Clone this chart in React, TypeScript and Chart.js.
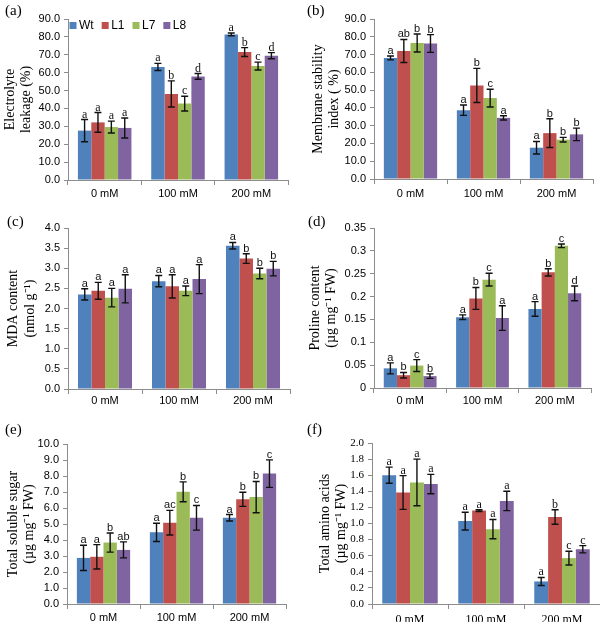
import React, { useEffect, useRef } from 'react';
import { Chart, registerables } from 'chart.js';

Chart.register(...registerables);

const SANS = '"Liberation Sans", Arial, sans-serif';
const SERIF = '"Liberation Serif", "Times New Roman", serif';
const AXIS = '#8c8c8c';

const categories = ['0 mM', '100 mM', '200 mM'];
const seriesNames = ['Wt', 'L1', 'L7', 'L8'];
const seriesColors = ['#4F81BD', '#C0504D', '#9BBB59', '#8064A2'];

// (a) Electrolyte leakage (%)  [Wt, L1, L7, L8] x [0, 100, 200 mM]
const leakValues = [
  [27.6, 63.2, 81.4],
  [32.2, 48.1, 71.5],
  [29.6, 42.7, 63.7],
  [29.1, 57.9, 69.5],
];
const leakErrors = [
  [6.2, 2.0, 0.8],
  [5.5, 7.3, 2.5],
  [3.3, 4.1, 2.2],
  [5.6, 1.6, 1.7],
];
const leakLetters = [
  ['a', 'a', 'a'],
  ['a', 'b', 'b'],
  ['a', 'c', 'c'],
  ['a', 'd', 'd'],
];

// (b) Membrane stability index (%)
const msiValues = [
  [68.1, 38.7, 17.6],
  [72.0, 52.6, 25.8],
  [76.5, 45.5, 22.1],
  [76.2, 34.4, 25.1],
];
const msiErrors = [
  [1.1, 2.9, 3.5],
  [6.5, 9.6, 8.1],
  [5.1, 5.0, 1.3],
  [5.0, 1.2, 3.5],
];
const msiLetters = [
  ['a', 'a', 'a'],
  ['ab', 'b', 'b'],
  ['b', 'c', 'b'],
  ['b', 'a', 'b'],
];

// (c) MDA content
const mdaValues = [
  [2.35, 2.68, 3.56],
  [2.44, 2.55, 3.24],
  [2.27, 2.44, 2.87],
  [2.49, 2.73, 2.99],
];
const mdaErrors = [
  [0.14, 0.14, 0.08],
  [0.21, 0.29, 0.12],
  [0.23, 0.12, 0.13],
  [0.35, 0.36, 0.18],
];
const mdaLetters = [
  ['a', 'a', 'a'],
  ['a', 'a', 'b'],
  ['a', 'a', 'b'],
  ['a', 'a', 'b'],
];

// (d) Proline content
const proValues = [
  [0.043, 0.155, 0.173],
  [0.028, 0.196, 0.253],
  [0.049, 0.237, 0.311],
  [0.026, 0.153, 0.207],
];
const proErrors = [
  [0.012, 0.005, 0.016],
  [0.006, 0.024, 0.008],
  [0.013, 0.014, 0.004],
  [0.005, 0.027, 0.016],
];
const proLetters = [
  ['a', 'a', 'a'],
  ['b', 'b', 'b'],
  ['c', 'c', 'c'],
  ['b', 'a', 'd'],
];

// (e) Total soluble sugar
const sugValues = [
  [2.88, 4.48, 5.39],
  [2.95, 5.08, 6.54],
  [3.84, 7.01, 6.68],
  [3.38, 5.39, 8.15],
];
const sugErrors = [
  [0.79, 0.57, 0.2],
  [0.76, 0.77, 0.44],
  [0.6, 0.62, 0.98],
  [0.5, 0.77, 0.86],
];
const sugLetters = [
  ['a', 'a', 'a'],
  ['a', 'ac', 'b'],
  ['b', 'b', 'b'],
  ['ab', 'c', 'c'],
];

// (f) Total amino acids
const aaValues = [
  [1.6, 1.03, 0.28],
  [1.385, 1.16, 1.08],
  [1.51, 0.93, 0.57],
  [1.49, 1.28, 0.68],
];
const aaErrors = [
  [0.1, 0.11, 0.05],
  [0.21, 0.01, 0.09],
  [0.29, 0.12, 0.085],
  [0.12, 0.12, 0.045],
];
const aaLetters = [
  ['a', 'a', 'a'],
  ['a', 'a', 'b'],
  ['a', 'a', 'c'],
  ['a', 'a', 'c'],
];

const fmt1 = (v: number) => Number(v).toFixed(1);
const fmtTrim = (v: number) => String(Number(Number(v).toFixed(2)));

type Spec = {
  tag: string;
  cx: number; cy: number; cw: number; ch: number;
  L: number; R: number; T: number; B: number;
  max: number; step: number; fmt: (v: number) => string;
  values: number[][]; errors: number[][]; letters: string[][];
  title: string[]; titlePad: number; xPad: number;
  tickFamily: string; catFamily: string; catSize: number; letterFont: string;
  legend: boolean;
  labelX: number; labelY: number;
};

const panels: Spec[] = [
  {
    tag: '(a)', cx: 0, cy: 0, cw: 300, ch: 205, L: 68, R: 288, T: 19, B: 180,
    max: 90, step: 10, fmt: fmt1, values: leakValues, errors: leakErrors, letters: leakLetters,
    title: ['Electrolyte', 'leakage (%)'], titlePad: 1.5, xPad: 2.5,
    tickFamily: SANS, catFamily: SANS, catSize: 11, letterFont: `12px ${SERIF}`, legend: true,
    labelX: 5, labelY: 2,
  },
  {
    tag: '(b)', cx: 300, cy: 0, cw: 300, ch: 205, L: 374, R: 593, T: 19, B: 179,
    max: 90, step: 10, fmt: fmt1, values: msiValues, errors: msiErrors, letters: msiLetters,
    title: ['Membrane stability', 'index ( %)'], titlePad: 9.5, xPad: 3,
    tickFamily: SANS, catFamily: SANS, catSize: 11, letterFont: `11px ${SANS}`, legend: false,
    labelX: 307, labelY: 2,
  },
  {
    tag: '(c)', cx: 0, cy: 205, cw: 300, ch: 205, L: 68, R: 290, T: 228, B: 389,
    max: 4, step: 0.5, fmt: fmt1, values: mdaValues, errors: mdaErrors, letters: mdaLetters,
    title: ['MDA content', '(nmol g\u207B\u00B9)'], titlePad: 5, xPad: 0.5,
    tickFamily: SANS, catFamily: SANS, catSize: 11, letterFont: `11px ${SANS}`, legend: false,
    labelX: 7, labelY: 213,
  },
  {
    tag: '(d)', cx: 300, cy: 205, cw: 300, ch: 205, L: 374, R: 591, T: 228, B: 388,
    max: 0.35, step: 0.05, fmt: fmtTrim, values: proValues, errors: proErrors, letters: proLetters,
    title: ['Proline content', '(\u00B5g mg\u207B\u00B9 FW)'], titlePad: 6.5, xPad: 1.5,
    tickFamily: SANS, catFamily: SANS, catSize: 11, letterFont: `11px ${SANS}`, legend: false,
    labelX: 308, labelY: 213,
  },
  {
    tag: '(e)', cx: 0, cy: 410, cw: 300, ch: 214, L: 67, R: 286, T: 444, B: 604,
    max: 10, step: 1, fmt: fmt1, values: sugValues, errors: sugErrors, letters: sugLetters,
    title: ['Total soluble sugar', '(\u00B5g mg\u207B\u00B9 FW)'], titlePad: 4.5, xPad: 2.5,
    tickFamily: SANS, catFamily: SANS, catSize: 11, letterFont: `11px ${SANS}`, legend: false,
    labelX: 5, labelY: 421,
  },
  {
    tag: '(f)', cx: 300, cy: 410, cw: 300, ch: 214, L: 372, R: 600, T: 443, B: 604,
    max: 2, step: 0.2, fmt: fmt1, values: aaValues, errors: aaErrors, letters: aaLetters,
    title: ['Total amino acids', '(\u00B5g mg\u207B\u00B9 FW)'], titlePad: 16.5, xPad: 4,
    tickFamily: SERIF, catFamily: SERIF, catSize: 12, letterFont: `12px ${SERIF}`, legend: false,
    labelX: 307, labelY: 421,
  },
];

function makeAnnotPlugin(letterFont: string) {
  return {
    id: 'annot',
    afterDatasetsDraw(chart: any) {
      const { ctx } = chart;
      const yScale = chart.scales.y;
      chart.data.datasets.forEach((ds: any, di: number) => {
        const meta = chart.getDatasetMeta(di);
        meta.data.forEach((bar: any, i: number) => {
          const v = ds.data[i];
          const e = ds.errors[i];
          const x = bar.x;
          const yTop = yScale.getPixelForValue(v + e);
          const yBot = yScale.getPixelForValue(v - e);
          const cap = 3.5;
          ctx.save();
          ctx.strokeStyle = '#111';
          ctx.lineWidth = 1.4;
          ctx.beginPath();
          ctx.moveTo(x, yTop);
          ctx.lineTo(x, yBot);
          ctx.moveTo(x - cap, yTop);
          ctx.lineTo(x + cap, yTop);
          ctx.moveTo(x - cap, yBot);
          ctx.lineTo(x + cap, yBot);
          ctx.stroke();
          ctx.fillStyle = '#111';
          ctx.font = letterFont;
          ctx.textAlign = 'center';
          ctx.textBaseline = 'alphabetic';
          ctx.fillText(ds.letters[i], x, yTop - 2);
          ctx.restore();
        });
      });
    },
  };
}

function makeLegendPlugin(show: boolean) {
  return {
    id: 'boxLegend',
    afterDatasetsDraw(chart: any) {
      if (!show) return;
      const { ctx, chartArea } = chart;
      let x = chartArea.left + 1.5;
      const yc = chartArea.top + 6.5;
      ctx.save();
      ctx.font = `12px ${SANS}`;
      ctx.textBaseline = 'middle';
      ctx.textAlign = 'left';
      chart.data.datasets.forEach((ds: any) => {
        ctx.fillStyle = ds.backgroundColor;
        ctx.fillRect(x, yc - 3.5, 7, 7);
        x += 9.5;
        ctx.fillStyle = '#000';
        ctx.fillText(ds.label, x, yc + 0.5);
        x += ctx.measureText(ds.label).width + 8;
      });
      ctx.restore();
    },
  };
}

function makeChart(canvas: HTMLCanvasElement, p: Spec) {
  const yWidth = p.L - p.cx;
  const xHeight = 18;
  return new Chart(canvas, {
    type: 'bar',
    data: {
      labels: categories,
      datasets: seriesNames.map((name, i) => ({
        label: name,
        data: p.values[i],
        errors: p.errors[i],
        letters: p.letters[i],
        backgroundColor: seriesColors[i],
        borderWidth: 0,
        categoryPercentage: 0.73,
        barPercentage: 1.0,
      })) as any,
    },
    options: {
      responsive: false,
      maintainAspectRatio: false,
      animation: false,
      layout: {
        padding: {
          left: 0,
          right: p.cx + p.cw - p.R,
          top: p.T - p.cy,
          bottom: p.cy + p.ch - p.B - xHeight,
        },
      },
      plugins: {
        legend: { display: false },
        tooltip: { enabled: false },
        title: { display: false },
      },
      scales: {
        x: {
          grid: {
            display: true,
            drawOnChartArea: false,
            drawTicks: true,
            tickLength: 5,
            color: AXIS,
            offset: true,
          },
          border: { display: true, color: AXIS, width: 1 },
          ticks: {
            font: { family: p.catFamily, size: p.catSize },
            color: '#000',
            padding: p.xPad,
            maxRotation: 0,
            autoSkip: false,
          },
          afterFit: (s: any) => {
            s.height = xHeight;
          },
        },
        y: {
          min: 0,
          max: p.max,
          ticks: {
            stepSize: p.step,
            autoSkip: false,
            callback: (v: any) => p.fmt(Number(v)),
            font: { family: p.tickFamily, size: 11 },
            color: '#000',
            padding: 4,
          },
          grid: {
            display: true,
            drawOnChartArea: false,
            drawTicks: true,
            tickLength: 4,
            color: AXIS,
          },
          border: { display: true, color: AXIS, width: 1 },
          title: {
            display: true,
            text: p.title,
            font: { family: SERIF, size: 14, lineHeight: 1.2 },
            color: '#000',
            padding: { top: p.titlePad, bottom: 0 },
          },
          afterFit: (s: any) => {
            s.width = yWidth;
          },
        },
      },
    } as any,
    plugins: [makeAnnotPlugin(p.letterFont), makeLegendPlugin(p.legend)],
  });
}

function Panel({ spec }: { spec: Spec }) {
  const ref = useRef<HTMLCanvasElement>(null);
  useEffect(() => {
    if (!ref.current) return;
    const chart = makeChart(ref.current, spec);
    return () => chart.destroy();
  }, [spec]);
  return (
    <canvas
      ref={ref}
      width={spec.cw}
      height={spec.ch}
      style={{
        position: 'absolute',
        left: spec.cx,
        top: spec.cy,
        width: spec.cw,
        height: spec.ch,
      }}
    />
  );
}

export default function App() {
  useEffect(() => {
    document.body.style.margin = '0';
  }, []);
  return (
    <div
      style={{
        position: 'relative',
        width: 600,
        height: 624,
        background: '#fff',
        overflow: 'hidden',
      }}
    >
      {panels.map((p) => (
        <Panel key={p.tag} spec={p} />
      ))}
      {panels.map((p) => (
        <div
          key={'lbl' + p.tag}
          style={{
            position: 'absolute',
            left: p.labelX,
            top: p.labelY,
            fontFamily: SERIF,
            fontSize: 15,
            lineHeight: '16px',
            color: '#000',
          }}
        >
          {p.tag}
        </div>
      ))}
    </div>
  );
}
